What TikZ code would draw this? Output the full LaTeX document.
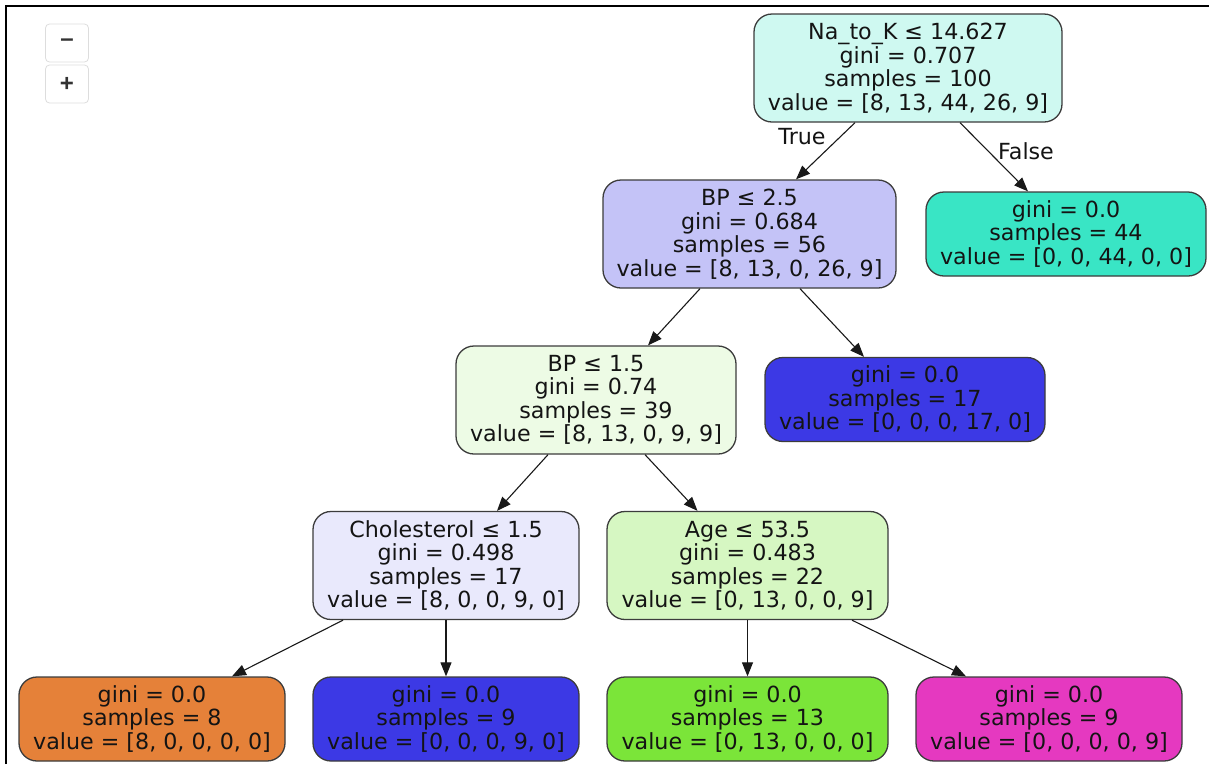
\documentclass[tikz,border=0pt]{standalone}
\usepackage{fontspec}
\setmainfont{DejaVu Sans}
\newfontfamily\btnfont{Liberation Sans}
\usetikzlibrary{arrows.meta,calc}

% class colours of the tree (impurity-shaded fills)
\definecolor{cRoot}{RGB}{207,249,241}
\definecolor{cTeal}{RGB}{57,229,197}
\definecolor{cBPa}{RGB}{196,195,247}
\definecolor{cBlue}{RGB}{60,57,229}
\definecolor{cBPb}{RGB}{237,251,229}
\definecolor{cChol}{RGB}{233,233,252}
\definecolor{cAge}{RGB}{214,247,194}
\definecolor{cOrange}{RGB}{229,129,57}
\definecolor{cGreen}{RGB}{123,229,57}
\definecolor{cPink}{RGB}{229,57,192}
\definecolor{txt}{RGB}{20,20,20}
\definecolor{border}{RGB}{60,60,60}
\definecolor{btnline}{RGB}{221,221,221}
\definecolor{btntxt}{RGB}{51,51,51}

\begin{document}
\begin{tikzpicture}[x=1pt,y=-1pt,
  treenode/.style={draw=border, line width=1.3pt, rounded corners=18pt,
    align=center, inner sep=0pt, text=txt,
    font=\fontsize{22.2}{23.5}\selectfont},
  split/.style={treenode, minimum height=108pt},
  leaf/.style={treenode, minimum height=84pt},
  edge/.style={line width=1.1pt, draw=black!90,
    -{Triangle[length=14pt,width=11pt]}},
  edgelabel/.style={inner sep=0pt, text=txt, font=\fontsize{22.2}{23.5}\selectfont},
  zoombtn/.style={draw=btnline, line width=0.8pt, rounded corners=4pt,
    minimum width=43pt, minimum height=38pt, inner sep=0pt, text=btntxt,
    font=\btnfont\bfseries\fontsize{24}{24}\selectfont}
]
\useasboundingbox (0,0) rectangle (1209,764);
\fill[white] (0,0) rectangle (1209,764);

% viewer frame
\draw[line width=2pt, black] (6,764) -- (6,6) -- (1209,6);

% zoom buttons
\node[zoombtn] (zoomout) at (67,43) {–};
\node[zoombtn] (zoomin)  at (67,84) {+};

% split nodes
\node[split, fill=cRoot, minimum width=308pt] (root) at (908,68)
  {Na\_to\_K ≤ 14.627\\gini = 0.707\\samples = 100\\value = [8, 13, 44, 26, 9]};
\node[split, fill=cBPa, minimum width=293pt] (bpa) at (749.5,234)
  {BP ≤ 2.5\\gini = 0.684\\samples = 56\\value = [8, 13, 0, 26, 9]};
\node[split, fill=cBPb, minimum width=280pt] (bpb) at (596,400)
  {BP ≤ 1.5\\gini = 0.74\\samples = 39\\value = [8, 13, 0, 9, 9]};
\node[split, fill=cChol, minimum width=266pt] (chol) at (446,565.5)
  {Cholesterol ≤ 1.5\\gini = 0.498\\samples = 17\\value = [8, 0, 0, 9, 0]};
\node[split, fill=cAge, minimum width=281pt] (age) at (747.5,565.5)
  {Age ≤ 53.5\\gini = 0.483\\samples = 22\\value = [0, 13, 0, 0, 9]};

% leaves
\node[leaf, fill=cTeal, minimum width=280pt] (lf44) at (1066,234)
  {gini = 0.0\\samples = 44\\value = [0, 0, 44, 0, 0]};
\node[leaf, fill=cBlue, minimum width=280pt] (lf17) at (905,399.5)
  {gini = 0.0\\samples = 17\\value = [0, 0, 0, 17, 0]};
\node[leaf, fill=cOrange, minimum width=266pt] (lf8) at (152,719)
  {gini = 0.0\\samples = 8\\value = [8, 0, 0, 0, 0]};
\node[leaf, fill=cBlue, minimum width=266pt] (lf9a) at (446,719)
  {gini = 0.0\\samples = 9\\value = [0, 0, 0, 9, 0]};
\node[leaf, fill=cGreen, minimum width=281pt] (lf13) at (747.5,719)
  {gini = 0.0\\samples = 13\\value = [0, 13, 0, 0, 0]};
\node[leaf, fill=cPink, minimum width=266pt] (lf9b) at (1049,719)
  {gini = 0.0\\samples = 9\\value = [0, 0, 0, 0, 9]};

% connectors
\draw[edge] ($(root.south)+(-53,0)$) -- ($(bpa.north)+(46.5,0)$);
\draw[edge] ($(root.south)+(52,0)$) -- ($(lf44.north)+(-38,0)$);
\draw[edge] ($(bpa.south)+(-49.5,0)$) -- ($(bpb.north)+(52,0)$);
\draw[edge] ($(bpa.south)+(50.5,0)$) -- ($(lf17.north)+(-41,0)$);
\draw[edge] ($(bpb.south)+(-48,0)$) -- ($(chol.north)+(51,0)$);
\draw[edge] ($(bpb.south)+(49,0)$) -- ($(age.north)+(-50,0)$);
\draw[edge] ($(chol.south)+(-103,0)$) -- ($(lf8.north)+(80,0)$);
\draw[edge] (chol.south) -- (lf9a.north);
\draw[edge] (age.south) -- (lf13.north);
\draw[edge] ($(age.south)+(104.5,0)$) -- ($(lf9b.north)+(-83,0)$);

% branch labels
\node[edgelabel] (truelbl)  at (802,137) {True};
\node[edgelabel] (falselbl) at (1026,151) {False};
\end{tikzpicture}
\end{document}
